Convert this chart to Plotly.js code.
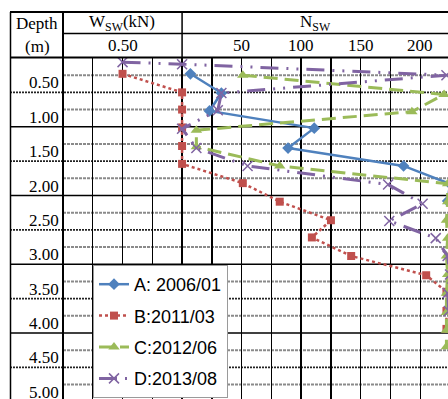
<!DOCTYPE html>
<html><head><meta charset="utf-8">
<script src="https://cdn.plot.ly/plotly-3.0.1.min.js"></script>
<style>html,body{margin:0;padding:0;background:#fff;}#chart{width:448px;height:399px;}</style>
</head><body><div id="chart"></div>
<script>
// ---------------- data ----------------
const seriesNames = ['A: 2006/01', 'B:2011/03', 'C:2012/06', 'D:2013/08'];

// A : 2006/01
const depthA = [0.23, 0.51, 0.77, 1.02, 1.31, 1.57, 1.83, 2.08];
const wswA   = [1.00, 1.00, 1.00, 1.00, 1.00, 1.00, 1.00, 1.00];
const nswA   = [7, 33, 23, 111, 89, 186, 225, 223];

// B : 2011/03
const depthB = [0.23, 0.50, 0.75, 1.01, 1.28, 1.54, 1.82, 2.09, 2.36, 2.61, 2.88, 3.16, 3.40, 3.68, 3.94];
const wswB   = [0.50, 1.00, 1.00, 1.00, 1.00, 1.00, 1.00, 1.00, 1.00, 1.00, 1.00, 1.00, 1.00, 1.00, 1.00];
const nswB   = [0, 0, 0, 0, 0, 0, 51, 82, 125, 109, 142, 205, 222, 222, 222];

// C : 2012/06
const depthC = [0.25, 0.53, 0.78, 1.05, 1.29, 1.57, 1.83, 2.09, 2.36, 2.62, 2.88, 3.15, 3.42, 3.70, 3.96, 4.20];
const wswC   = [1.00, 1.00, 1.00, 1.00, 1.00, 1.00, 1.00, 1.00, 1.00, 1.00, 1.00, 1.00, 1.00, 1.00, 1.00, 1.00];
const nswC   = [51, 220, 193, 12, 12, 82, 223, 223, 222, 223, 222, 223, 222, 222, 222, 222];

// D : 2013/08
const depthD = [0.06, 0.09, 0.25, 0.51, 0.76, 1.03, 1.31, 1.57, 1.84, 2.12, 2.37, 2.62, 2.88, 3.15, 3.42, 3.68];
const wswD   = [0.50, 1.00, 1.00, 1.00, 1.00, 1.00, 1.00, 1.00, 1.00, 1.00, 1.00, 1.00, 1.00, 1.00, 1.00, 1.00];
const nswD   = [0, 0, 222, 33, 30, 0, 12, 55, 173, 202, 174, 213, 223, 225, 223, 224];

// axis ticks
const wswTickVals = [0.50];
const wswTickText = ['0.50'];
const nswTickVals = [50, 100, 150, 200];
const nswTickText = ['50', '100', '150', '200'];
const depthTickVals = [0.5, 1.0, 1.5, 2.0, 2.5, 3.0, 3.5, 4.0, 4.5, 5.0];
const depthTickText = ['0.50', '1.00', '1.50', '2.00', '2.50', '3.00', '3.50', '4.00', '4.50', '5.00'];

// ---------------- scales / layout geometry ----------------
const W = 448, H = 399, L = 63, T = 58;
const plotW = W - L, plotH = H - T;
const NSW_PER_KN = 100;              // 1 kN of Wsw spans the same width as 100 Nsw
const X_MIN = -NSW_PER_KN;
const PX_PER_UNIT = 29.77 / 25;
const X_MAX = X_MIN + plotW / PX_PER_UNIT;
const PX_PER_M = 68.75;
const Y_MAX = plotH / PX_PER_M;

function toX(w, n) { return w < 1 ? (w - 1) * NSW_PER_KN : n; }
const fx = p => (p - L) / plotW;          // pixel -> paper x
const fy = p => (H - p) / plotH;          // pixel -> paper y
const dy = d => 1 - d / Y_MAX;            // depth -> paper y

const serif = 'Liberation Serif, Times New Roman, serif';
const sans = 'Liberation Sans, Arial, sans-serif';

const colors = ['#4F81BD', '#C0504D', '#9BBB59', '#8064A2'];
const depths = [depthA, depthB, depthC, depthD];
const wsws = [wswA, wswB, wswC, wswD];
const nsws = [nswA, nswB, nswC, nswD];
const lineStyles = [
  {width: 2.5, dash: 'solid'},
  {width: 2.5, dash: 'dot'},
  {width: 3, dash: '14px,7px'},
  {width: 3, dash: '18px,8px,2px,8px,2px,8px'}
];
const markers = [
  {symbol: 'diamond', size: 9},
  {symbol: 'square', size: 8},
  {symbol: 'triangle-up', size: 10},
  {symbol: 'x-thin-open', size: 10, line: {width: 1.5, color: colors[3]}}
];

const traces = seriesNames.map((name, i) => ({
  type: 'scatter',
  mode: 'lines+markers',
  name: name,
  legendgroup: 'g' + i,
  x: depths[i].map((d, j) => toX(wsws[i][j], nsws[i][j])),
  y: depths[i],
  line: Object.assign({color: colors[i]}, lineStyles[i]),
  marker: Object.assign({color: colors[i]}, markers[i]),
  hoverinfo: 'skip'
}));

// ---------------- decorations ----------------
const shapes = [];
function pline(x0, y0, x1, y1, color, width, dash) {
  shapes.push({type: 'line', xref: 'paper', yref: 'paper', x0: fx(x0), y0: fy(y0), x1: fx(x1), y1: fy(y1),
    line: {color: color, width: width, dash: dash || 'solid'}, layer: 'above'});
}
// horizontal depth grid lines
for (let k = 1; k <= 19; k++) {
  const d = k * 0.25;
  let s;
  if (k % 4 === 0) s = {x0: fx(10), line: {color: '#000', width: 1.6}};
  else if (k % 2 === 0) s = {x0: fx(10), line: {color: '#222', width: 1.6, dash: '2px,1px'}};
  else s = {x0: 0, line: {color: '#8a8a8a', width: 2, dash: '3px,1px'}};
  shapes.push({type: 'line', xref: 'paper', yref: 'y', x0: s.x0, x1: 1, y0: d, y1: d, line: s.line, layer: 'below'});
}
// table frame
pline(10, 12, 448, 12, '#000', 2);
pline(63, 33.5, 448, 33.5, '#000', 1.5);
pline(10, 57.5, 448, 57.5, '#000', 2);
pline(10.5, 12, 10.5, 399, '#000', 1.5);
pline(63, 12, 63, 399, '#000', 2);
shapes.push({type: 'line', xref: 'x', yref: 'paper', x0: 0, x1: 0, y0: fy(12), y1: fy(58),
  line: {color: '#000', width: 1.5}});

const annotations = [];
function ann(text, x, y, xanchor, size) {
  annotations.push({text: text, xref: 'paper', yref: 'paper', x: fx(x), y: fy(y), xanchor: xanchor || 'center',
    yanchor: 'middle', showarrow: false, font: {family: serif, size: size || 17, color: '#000'}});
}
ann('Depth', 37, 23);
ann('(m)', 37, 46);
ann('W<sub>SW</sub>(kN)', 122, 23);
ann('N<sub>SW</sub>', 315, 23);
// top tick labels
wswTickVals.forEach((v, i) => annotations.push({text: wswTickText[i], xref: 'x', yref: 'paper', x: toX(v, 0), y: fy(45),
  xanchor: 'center', yanchor: 'middle', showarrow: false, font: {family: serif, size: 17, color: '#000'}}));
nswTickVals.forEach((v, i) => annotations.push({text: nswTickText[i], xref: 'x', yref: 'paper', x: v, y: fy(45),
  xanchor: 'center', yanchor: 'middle', showarrow: false, font: {family: serif, size: 17, color: '#000'}}));
// depth labels (sit just above their line)
depthTickVals.forEach((v, i) => annotations.push({text: depthTickText[i], xref: 'paper', yref: 'paper', x: fx(61), y: dy(v),
  xanchor: 'right', yanchor: 'bottom', yshift: -2, showarrow: false, font: {family: serif, size: 17, color: '#000'}}));

const layout = {
  width: W, height: H,
  margin: {l: L, r: 0, t: T, b: 0, pad: 0, autoexpand: false},
  paper_bgcolor: '#fff', plot_bgcolor: '#fff',
  showlegend: true,
  legend: {x: fx(93), y: fy(265), xanchor: 'left', yanchor: 'top', bgcolor: '#fff',
    bordercolor: '#9a9a9a', borderwidth: 1, tracegroupgap: 5,
    font: {family: sans, size: 18, color: '#000'}},
  xaxis: {range: [X_MIN, X_MAX], tick0: 0, dtick: 25, showgrid: true, gridcolor: '#000', gridwidth: 1.4,
    zeroline: false, showline: false, showticklabels: false, ticks: '', fixedrange: true},
  yaxis: {range: [Y_MAX, 0], showgrid: false, zeroline: false, showline: false, showticklabels: false,
    ticks: '', fixedrange: true},
  shapes: shapes,
  annotations: annotations
};

Plotly.newPlot('chart', traces, layout, {staticPlot: true, displayModeBar: false});
</script>
</body></html>
